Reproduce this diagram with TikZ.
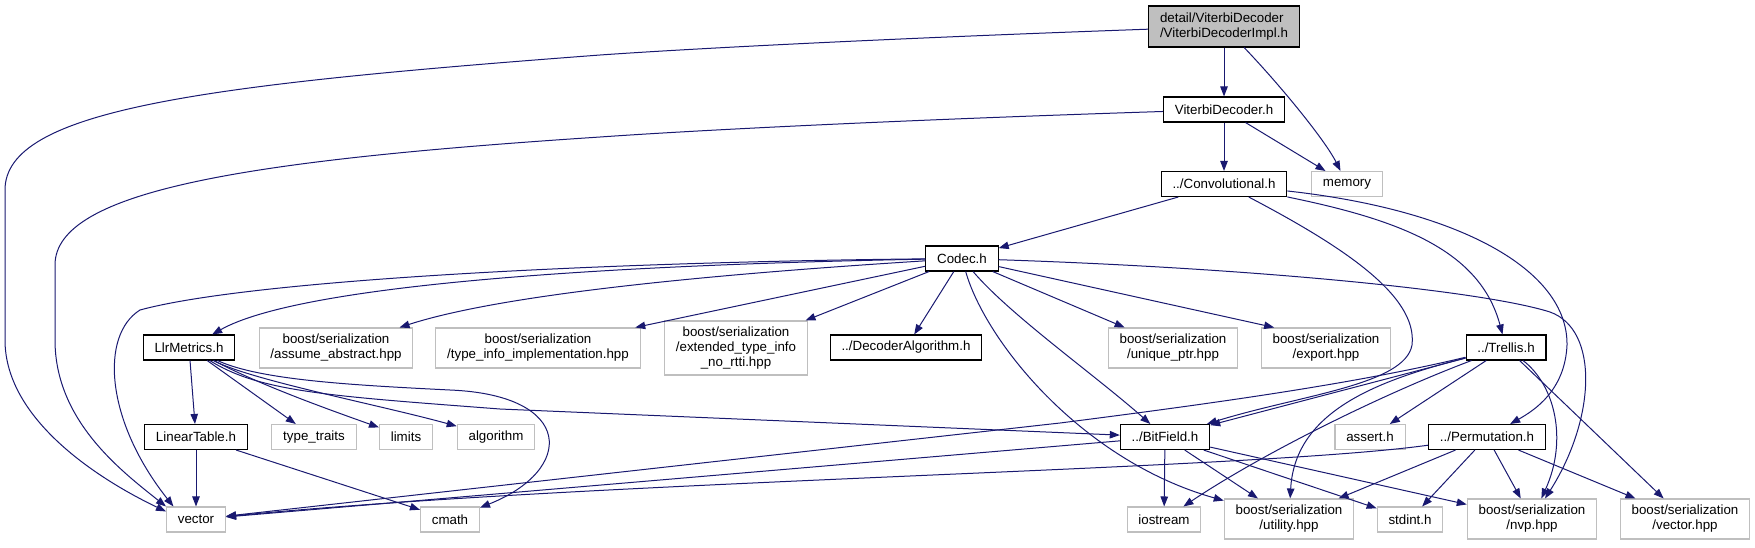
\documentclass[tikz,border=0pt]{standalone}
\usepackage{fontspec}
\setmainfont{Liberation Sans}
\usetikzlibrary{arrows.meta}
\definecolor{depblue}{HTML}{191970}
\definecolor{extgray}{HTML}{BFBFBF}

\begin{document}
\begin{tikzpicture}[x=0.75pt, y=-0.75pt, font=\fontsize{10}{11.25}\selectfont, >={Triangle[length=7.5pt,width=5.6pt]}]
  \tikzstyle{hdr}=[draw,line width=0.8pt,fill=white,inner xsep=8.5pt,inner ysep=2pt,minimum height=18.75pt,align=center]
  \tikzstyle{sys}=[hdr,draw=extgray]
  \tikzstyle{twoline}=[minimum height=30pt]
  \tikzstyle{threeline}=[minimum height=40.5pt]
  \tikzstyle{dep}=[->,draw=depblue,line width=0.75pt]
  \useasboundingbox (0,0) rectangle (1755,547);
  % project headers
  \node[hdr,fill=extgray,minimum height=30.75pt,align=left] (impl) at (1224,26.5) {detail/ViterbiDecoder\\/ViterbiDecoderImpl.h};
  \node[hdr] (vdec) at (1224,109.5) {ViterbiDecoder.h};
  \node[hdr] (conv) at (1224,184) {../Convolutional.h};
  \node[hdr] (codec) at (962,258.5) {Codec.h};
  \node[hdr] (llr) at (189,347.5) {LlrMetrics.h};
  \node[hdr] (decalg) at (906,347.5) {../DecoderAlgorithm.h};
  \node[hdr] (trellis) at (1506,347.5) {../Trellis.h};
  \node[hdr] (lintab) at (196,437) {LinearTable.h};
  \node[hdr] (bitfield) at (1165,437) {../BitField.h};
  \node[hdr] (perm) at (1487,437) {../Permutation.h};
  % system and boost headers
  \node[sys] (memory) at (1347,184) {memory};
  \node[sys,twoline] (assume) at (336,348) {boost/serialization\\/assume\_abstract.hpp};
  \node[sys,twoline] (typeinfo) at (538,348) {boost/serialization\\/type\_info\_implementation.hpp};
  \node[sys,threeline] (exttype) at (736,348) {boost/serialization\\/extended\_type\_info\\\_no\_rtti.hpp};
  \node[sys,twoline] (uniqueptr) at (1173,348) {boost/serialization\\/unique\_ptr.hpp};
  \node[sys,twoline] (export) at (1326,348) {boost/serialization\\/export.hpp};
  \node[sys] (typetraits) at (314,437) {type\_traits};
  \node[sys] (limits) at (406,437) {limits};
  \node[sys] (algorithm) at (496,437) {algorithm};
  \node[sys] (assert) at (1370,437) {assert.h};
  \node[sys] (vector) at (196,519.5) {vector};
  \node[sys] (cmath) at (450,519.5) {cmath};
  \node[sys] (iostream) at (1164,519.5) {iostream};
  \node[sys,twoline] (utility) at (1289,519) {boost/serialization\\/utility.hpp};
  \node[sys] (stdint) at (1410,519.5) {stdint.h};
  \node[sys,twoline] (nvp) at (1532,519) {boost/serialization\\/nvp.hpp};
  \node[sys,twoline] (vechpp) at (1685,519) {boost/serialization\\/vector.hpp};
  % ViterbiDecoderImpl.h
  \draw[dep] (impl) -- (vdec);
  \draw[dep] (impl) .. controls (1280,85) and (1325,140) .. (memory);
  \draw[dep] (impl) .. controls (900,38) and (700,48) .. (600,55) .. controls (200,85) and (5,110) .. (5,190) -- (5,340) .. controls (5,420) and (100,480) .. (vector.165);
  % ViterbiDecoder.h
  \draw[dep] (vdec) -- (conv);
  \draw[dep] (vdec) -- (memory);
  \draw[dep] (vdec) .. controls (900,120) and (700,130) .. (600,137) .. controls (250,160) and (55,190) .. (55,265) -- (55,340) .. controls (55,420) and (120,470) .. (vector.north west);
  % Convolutional.h
  \draw[dep] (conv) -- (codec);
  \draw[dep] (conv) .. controls (1340,245) and (1418,295) .. (1412,345) .. controls (1405,385) and (1300,395) .. (bitfield);
  \draw[dep] (conv) .. controls (1400,220) and (1480,250) .. (trellis);
  \draw[dep] (conv) .. controls (1460,210) and (1568,270) .. (1567,345) .. controls (1565,390) and (1535,410) .. (perm);
  % Codec.h
  \draw[dep] (codec) .. controls (600,262) and (250,280) .. (140,310) .. controls (100,335) and (105,420) .. (vector.150);
  \draw[dep] (codec) .. controls (600,265) and (300,285) .. (llr);
  \draw[dep] (codec) .. controls (700,275) and (500,295) .. (assume);
  \draw[dep] (codec) -- (typeinfo);
  \draw[dep] (codec) -- (exttype);
  \draw[dep] (codec) -- (decalg);
  \draw[dep] (codec) .. controls (985,340) and (1080,460) .. (utility);
  \draw[dep] (codec) .. controls (1010,315) and (1095,375) .. (bitfield);
  \draw[dep] (codec) -- (uniqueptr);
  \draw[dep] (codec) -- ([xshift=10pt]export.north west);
  \draw[dep] (codec) .. controls (1250,268) and (1480,290) .. (1550,312) .. controls (1600,330) and (1595,420) .. (nvp);
  % LlrMetrics.h
  \draw[dep] (llr) -- (lintab);
  \draw[dep] (llr) -- (typetraits);
  \draw[dep] (llr) .. controls (260,385) and (330,410) .. (limits);
  \draw[dep] (llr) .. controls (250,380) and (380,405) .. (algorithm);
  \draw[dep] (llr) .. controls (260,392) and (330,396) .. (500,409) -- (bitfield);
  \draw[dep] (llr) .. controls (260,380) and (350,385) .. (450,390) .. controls (575,395) and (575,470) .. (cmath);
  % LinearTable.h
  \draw[dep] (lintab) -- (vector);
  \draw[dep] (lintab) -- (cmath);
  % BitField.h
  \draw[dep] (bitfield) -- (vector);
  \draw[dep] (bitfield) -- (iostream);
  \draw[dep] (bitfield) -- (utility);
  \draw[dep] (bitfield) -- (stdint);
  \draw[dep] (bitfield) -- (nvp);
  % Trellis.h
  \draw[dep] (trellis) -- (bitfield);
  \draw[dep] (trellis) .. controls (1350,385) and (1200,405) .. (1060,423) -- (vector);
  \draw[dep] (trellis) .. controls (1380,395) and (1260,455) .. (iostream);
  \draw[dep] (trellis) .. controls (1380,380) and (1295,410) .. (utility);
  \draw[dep] (trellis) -- (assert);
  \draw[dep] (trellis) .. controls (1555,385) and (1568,440) .. (nvp);
  \draw[dep] (trellis) -- (vechpp);
  % Permutation.h
  \draw[dep] (perm) .. controls (1250,470) and (600,480) .. (vector);
  \draw[dep] (perm) -- (utility);
  \draw[dep] (perm) -- (stdint);
  \draw[dep] (perm) -- (nvp);
  \draw[dep] (perm) -- (vechpp);
\end{tikzpicture}
\end{document}
